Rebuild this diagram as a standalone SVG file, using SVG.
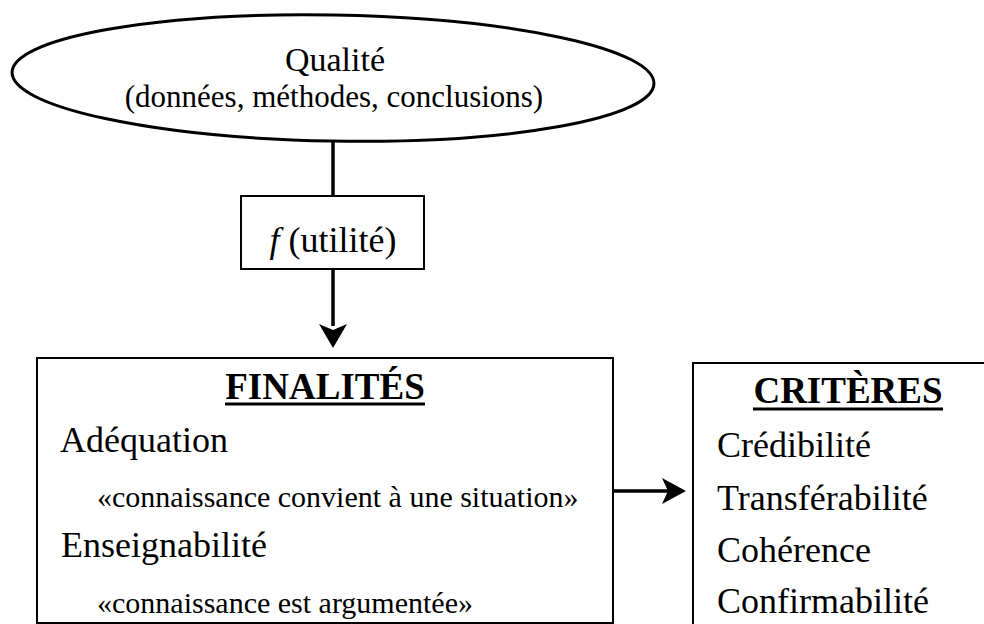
<svg xmlns="http://www.w3.org/2000/svg" width="984" height="624" viewBox="0 0 984 624">
<style>
text{font-family:"Liberation Serif","Times New Roman",serif;fill:#000}
.box{fill:#fff;stroke:#000;stroke-width:2}
.conn{stroke:#000;stroke-width:3.5;fill:none}
.ul{stroke:#000;stroke-width:3}
</style>
<rect width="984" height="624" fill="#fff"/>
<g id="connectors">
<line class="conn" x1="333" y1="140" x2="333" y2="196"/>
<line class="conn" x1="333" y1="269" x2="333" y2="326"/>
<path d="M319,324 L333,348 L347,324 L333,330 Z" fill="#000"/>
<line class="conn" x1="613" y1="491" x2="668" y2="491"/>
<path d="M662,478 L686,491 L662,504 L668,491 Z" fill="#000"/>
</g>
<g id="qualite">
<ellipse cx="333" cy="78" rx="321" ry="63" transform="rotate(1 333 78)" fill="#fff" stroke="#000" stroke-width="3"/>
<text x="335" y="71" font-size="34" text-anchor="middle">Qualité</text>
<text x="334" y="107" font-size="31" text-anchor="middle">(données, méthodes, conclusions)</text>
</g>
<g id="utilite">
<rect class="box" x="241" y="196" width="183" height="73"/>
<text x="333" y="252" font-size="36" text-anchor="middle"><tspan font-style="italic">f</tspan> (utilité)</text>
</g>
<g id="finalites">
<rect class="box" x="37" y="358" width="576" height="265"/>
<text x="325" y="399" font-size="37" font-weight="bold" text-anchor="middle">FINALITÉS</text>
<line class="ul" x1="225" y1="404" x2="425" y2="404"/>
<text x="60" y="452" font-size="36">Adéquation</text>
<text x="97" y="507" font-size="30">«connaissance convient à une situation»</text>
<text x="61" y="557" font-size="36">Enseignabilité</text>
<text x="97" y="613" font-size="30">«connaissance est argumentée»</text>
</g>
<g id="criteres">
<rect class="box" x="693" y="363" width="300" height="270"/>
<text x="848" y="403" font-size="37" font-weight="bold" text-anchor="middle">CRITÈRES</text>
<line class="ul" x1="753" y1="409" x2="943" y2="409"/>
<text x="717" y="457" font-size="36">Crédibilité</text>
<text x="717" y="510" font-size="36">Transférabilité</text>
<text x="717" y="562" font-size="36">Cohérence</text>
<text x="717" y="613" font-size="36">Confirmabilité</text>
</g>
</svg>
